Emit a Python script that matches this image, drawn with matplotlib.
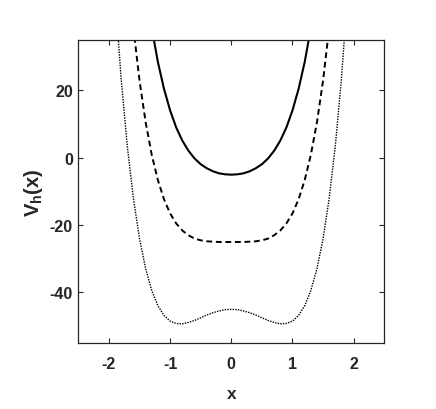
import matplotlib
matplotlib.use("Agg")
import matplotlib.pyplot as plt

# valores (simetricos em torno de x = 0)
x_solido = [-1.4, -1.3, -1.2, -1.1, -1.0, -0.9, -0.8, -0.7, -0.6, -0.5, -0.4, -0.3, -0.2, -0.1,
            0.0, 0.1, 0.2, 0.3, 0.4, 0.5, 0.6, 0.7, 0.8, 0.9, 1.0, 1.1, 1.2, 1.3, 1.4]
v_solido = [51.2, 38.6, 28.5, 20.5, 14.1, 9.0, 5.1, 2.1, -0.2, -1.9, -3.1, -4.0, -4.6, -4.9,
            -5.0, -4.9, -4.6, -4.0, -3.1, -1.9, -0.2, 2.1, 5.1, 9.0, 14.1, 20.5, 28.5, 38.6, 51.2]

x_tracejado = [-1.7, -1.6, -1.5, -1.4, -1.3, -1.2, -1.1, -1.0, -0.9, -0.8, -0.7, -0.6, -0.5, -0.4,
               -0.3, -0.2, -0.1, 0.0, 0.1, 0.2, 0.3, 0.4, 0.5, 0.6, 0.7, 0.8, 0.9, 1.0, 1.1,
               1.2, 1.3, 1.4, 1.5, 1.6, 1.7]
v_tracejado = [58.3, 38.7, 23.0, 10.6, 0.9, -6.6, -12.3, -16.5, -19.5, -21.6, -23.0, -24.0, -24.5, -24.8,
               -24.9, -25.0, -25.0, -25.0, -25.0, -25.0, -24.9, -24.8, -24.5, -24.0, -23.0, -21.6, -19.5, -16.5, -12.3,
               -6.6, 0.9, 10.6, 23.0, 38.7, 58.3]

x_pontilhado = [-1.9, -1.8, -1.7, -1.6, -1.5, -1.4, -1.3, -1.2, -1.1, -1.0, -0.9, -0.8, -0.7,
                -0.6, -0.5, -0.4, -0.3, -0.2, -0.1, 0.0, 0.1, 0.2, 0.3, 0.4, 0.5, 0.6, 0.7,
                0.8, 0.9, 1.0, 1.1, 1.2, 1.3, 1.4, 1.5, 1.6, 1.7, 1.8, 1.9]
v_pontilhado = [48.6, 23.5, 3.6, -12.0, -24.0, -32.9, -39.4, -43.9, -46.8, -48.5, -49.2, -49.3, -48.9,
                -48.3, -47.5, -46.7, -46.0, -45.5, -45.1, -45.0, -45.1, -45.5, -46.0, -46.7, -47.5, -48.3, -48.9,
                -49.3, -49.2, -48.5, -46.8, -43.9, -39.4, -32.9, -24.0, -12.0, 3.6, 23.5, 48.6]

xticks = [-2, -1, 0, 1, 2]
yticks = [-40, -20, 0, 20]

plt.rcParams['font.family'] = ['Liberation Sans', 'DejaVu Sans']
plt.rcParams['font.weight'] = 'bold'
plt.rcParams['axes.unicode_minus'] = False
plt.rcParams['mathtext.fontset'] = 'custom'
plt.rcParams['mathtext.rm'] = 'Liberation Sans:bold'
plt.rcParams['mathtext.it'] = 'Liberation Sans:bold'
plt.rcParams['mathtext.bf'] = 'Liberation Sans:bold'

cor_eixo = '#262626'

fig = plt.figure(figsize=(4.36, 4.10), dpi=100)
ax = fig.add_axes([0.1796, 0.161, 0.7018, 0.739])

ax.plot(x_solido, v_solido, color='black', lw=1.5, ls='-')
ax.plot(x_tracejado, v_tracejado, color='black', lw=1.4, dashes=(3.0, 1.9))
ax.plot(x_pontilhado, v_pontilhado, color='black', lw=1.0, dashes=(1.0, 0.9))

ax.set_xlim(-2.5, 2.5)
ax.set_ylim(-55, 35)
ax.set_xticks(xticks)
ax.set_yticks(yticks)

for lado in ax.spines.values():
    lado.set_color(cor_eixo)
    lado.set_linewidth(0.9)

ax.tick_params(direction='in', top=True, right=True, length=3.5, width=0.8,
               colors=cor_eixo, labelsize=11.5)
ax.tick_params(axis='x', pad=9.5)
ax.tick_params(axis='y', pad=4)
for t in ax.get_xticklabels() + ax.get_yticklabels():
    t.set_fontweight('bold')
    t.set_color(cor_eixo)

ax.set_xlabel('x', fontsize=12.5, fontweight='bold', color=cor_eixo, labelpad=11)
ax.set_ylabel(r'$\mathbf{V_h(x)}$', fontsize=14.5, color=cor_eixo, labelpad=3)

fig.savefig('out.png', dpi=100)
